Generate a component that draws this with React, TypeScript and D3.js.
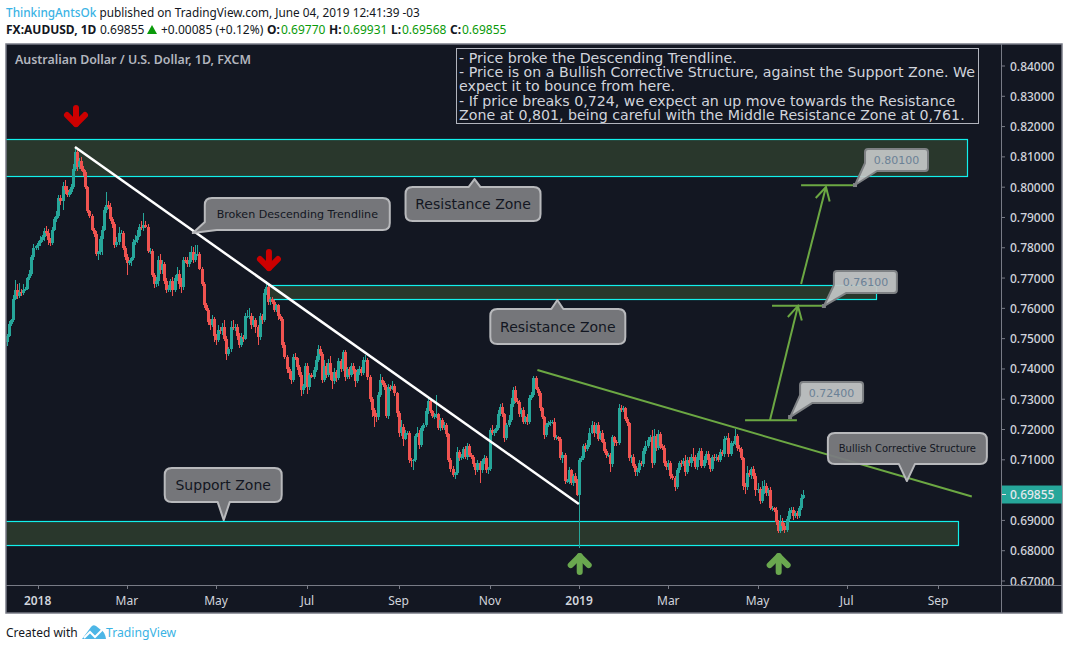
import React from "react";
import * as d3 from "d3";

// ---- data (prices in pips, 1/10000) ----
const firstOpen = 7490;
const closes = [
7510,7550,7560,7630,7660,7640,7655,7650,7660,7665,
7700,7715,7770,7800,7805,7815,7825,7835,7855,7850,
7825,7815,7860,7895,7905,7965,7955,8005,7990,7975,
7985,8000,8060,8115,8065,8085,8060,8050,8000,7920,
7905,7860,7845,7780,7785,7830,7860,7925,7940,7935,
7895,7880,7810,7820,7850,7850,7800,7770,7750,7755,
7765,7820,7825,7840,7870,7865,7875,7870,7790,7790,
7710,7680,7690,7760,7725,7745,7690,7660,7665,7690,
7660,7700,7715,7680,7670,7760,7755,7745,7760,7785,
7760,7780,7780,7730,7680,7610,7595,7555,7545,7565,
7510,7495,7530,7525,7540,7500,7450,7465,7540,7535,
7540,7510,7480,7505,7500,7575,7575,7575,7545,7560,
7540,7505,7575,7560,7650,7672,7620,7630,7620,7595,
7610,7575,7565,7480,7440,7400,7385,7365,7440,7435,
7405,7380,7330,7345,7410,7340,7380,7375,7395,7430,
7465,7450,7365,7410,7380,7420,7385,7360,7390,7370,
7425,7400,7455,7375,7400,7380,7410,7395,7360,7390,
7400,7385,7430,7430,7375,7300,7265,7245,7240,7315,
7365,7355,7340,7245,7340,7335,7345,7320,7255,7190,
7210,7170,7190,7190,7100,7095,7100,7180,7190,7150,
7205,7215,7260,7295,7260,7245,7245,7250,7205,7230,
7205,7215,7185,7100,7070,7050,7055,7125,7105,7110,
7135,7110,7145,7115,7110,7085,7065,7090,7065,7095,
7105,7065,7070,7200,7190,7195,7205,7250,7275,7250,
7172,7215,7230,7285,7330,7295,7290,7250,7265,7225,
7240,7225,7305,7315,7370,7335,7320,7270,7240,7182,
7215,7220,7225,7225,7175,7175,7170,7105,7115,7030,
7030,7065,7025,7045,7030,6985,7100,7105,7145,7135,
7150,7190,7215,7190,7215,7170,7190,7160,7130,7115,
7115,7085,7175,7160,7155,7270,7265,7270,7235,7220,
7105,7110,7080,7060,7065,7090,7085,7130,7145,7165,
7175,7090,7180,7140,7185,7145,7140,7090,7075,7090,
7045,7040,7011,7065,7090,7085,7095,7060,7100,7090,
7110,7105,7075,7110,7130,7080,7100,7120,7100,7070,
7110,7105,7110,7100,7125,7120,7170,7172,7120,7155,
7155,7180,7140,7135,7105,7015,7010,7055,7050,7070,
7045,7000,7005,6965,7000,7015,6990,7000,6940,6940,
6935,6895,6865,6895,6880,6870,6905,6930,6935,6915,
6925,6915,6940,6975,6985.5,
];
const wickUp = [
6,8,5,15,34,20,30,8,22,6,
5,10,6,12,5,8,14,8,10,16,
12,6,10,5,15,8,10,12,18,14,
8,10,15,18,12,10,14,10,8,5,
6,8,5,10,4,8,12,10,45,14,
12,8,6,14,20,10,6,5,8,4,
6,10,18,20,10,18,40,12,8,10,
6,8,12,14,20,14,8,10,12,8,
14,10,22,12,20,10,8,14,25,20,
16,30,28,6,5,6,8,5,10,12,
8,6,14,10,12,22,10,8,18,20,
10,8,10,14,6,10,18,25,10,14,
8,6,10,8,14,18,10,8,6,8,
6,6,8,5,8,5,6,8,8,12,
6,8,10,6,10,8,6,8,10,12,
14,12,6,18,8,14,22,6,14,8,
10,8,6,8,5,8,10,8,6,10,
10,6,8,16,6,4,6,5,8,10,
18,8,6,6,10,8,16,6,5,6,
20,8,10,6,6,5,4,5,18,8,
8,6,10,14,10,6,8,65,6,8,
8,10,6,4,6,8,5,18,6,10,
8,10,12,8,6,5,6,8,6,8,
10,8,6,4,14,8,10,15,10,14,
6,8,18,20,12,14,10,8,6,8,
6,12,8,10,8,6,4,6,6,5,
5,8,6,8,14,6,5,6,10,6,
8,10,6,8,10,6,5,8,6,10,
14,16,12,10,8,10,6,10,8,6,
8,6,8,5,5,14,12,8,6,8,
4,6,8,6,8,10,6,8,16,10,
6,24,22,6,14,6,6,8,5,10,
6,8,5,8,6,8,10,22,10,8,
8,30,10,14,8,10,12,8,10,6,
6,8,8,6,10,8,10,8,16,8,
8,22,6,10,6,4,8,24,10,6,
8,12,18,6,30,20,8,6,10,6,
5,10,6,22,14,12,8,10,10,8,
6,6,8,12,14,
];
const wickDown = [
15,6,8,5,4,10,6,8,6,4,
6,5,8,10,6,14,8,6,12,10,
16,8,6,5,10,6,14,30,12,8,
6,8,6,5,10,6,8,12,5,6,
8,5,10,8,22,10,55,6,10,8,
6,16,12,8,10,6,8,10,40,8,
14,6,10,8,6,8,10,6,8,10,
8,14,10,16,10,12,10,8,6,10,
20,6,10,16,18,8,6,10,8,6,
10,8,6,5,6,8,5,10,18,8,
20,16,6,10,14,8,22,8,10,8,
10,14,10,8,12,6,8,10,12,8,
20,25,8,10,5,6,8,10,6,8,
6,14,8,10,8,12,18,16,8,6,
10,8,18,14,8,22,10,6,8,6,
6,8,12,8,10,8,22,26,10,14,
8,10,6,14,8,12,6,12,18,8,
10,8,6,8,10,8,25,35,14,10,
6,8,10,8,10,8,6,8,12,16,
10,24,6,8,10,18,28,6,6,14,
8,10,6,8,6,8,10,6,8,10,
8,6,10,8,10,6,14,6,8,6,
8,8,10,6,8,10,14,6,40,8,
8,10,12,6,8,10,6,8,6,8,
14,6,8,6,10,8,6,10,8,8,
8,10,6,6,8,6,8,8,6,12,
8,6,8,6,10,10,8,6,14,10,
6,10,8,12,8,6,175,8,6,8,
6,8,6,14,6,8,6,6,8,8,
6,24,10,16,10,6,6,8,6,8,
10,16,8,12,14,8,6,8,10,6,
6,18,8,10,6,8,8,10,8,10,
8,6,14,6,8,10,6,12,8,10,
14,10,6,8,12,8,6,10,16,10,
6,8,10,8,6,8,12,6,10,6,
8,6,10,8,6,14,22,8,6,12,
8,20,10,12,8,14,8,8,6,8,
6,10,8,6,14,10,8,6,6,14,
8,10,6,6,5,
];

const priceTicks = [0.84,0.83,0.82,0.81,0.80,0.79,0.78,0.77,0.76,0.75,0.74,0.73,0.72,0.71,0.69,0.68,0.67];
const timeTicks = [
  { bar: 15, label: "2018", bold: true }, { bar: 58, label: "Mar" }, { bar: 101, label: "May" },
  { bar: 145, label: "Jul" }, { bar: 189, label: "Sep" }, { bar: 233, label: "Nov" },
  { bar: 276, label: "2019", bold: true }, { bar: 319, label: "Mar" }, { bar: 362, label: "May" },
  { bar: 405, label: "Jul" }, { bar: 449, label: "Sep" },
];
const lastPrice = 0.69855;
const zones = [
  { from: -5, to: 463, top: 0.81606, bottom: 0.80359 },
  { from: 126, to: 419, top: 0.7678, bottom: 0.76298 },
  { from: -5, to: 458.5, top: 0.68969, bottom: 0.68176 },
];
const trendLines = [
  { a: [33, 0.81326], b: [275.9, 0.6954], color: "#ffffff", w: 2.5 },
  { a: [255.9, 0.73964], b: [465.3, 0.69788], color: "#6ca843", w: 2 },
];
const levels = [
  { from: 356, to: 381, price: 0.7231 },
  { from: 369, to: 394, price: 0.76087 },
  { from: 383, to: 408.5, price: 0.80061 },
];
const moves = [
  { a: [368, 0.7231], b: [381.5, 0.7608] },
  { a: [383, 0.76803], b: [395, 0.80005] },
];
const markers = [
  { bar: 33.5, price: 0.82118, dir: "down", color: "#cc0000" },
  { bar: 126.5, price: 0.77364, dir: "down", color: "#cc0000" },
  { bar: 276.3, price: 0.6779, dir: "up", color: "#6aa84f" },
  { bar: 372.2, price: 0.6779, dir: "up", color: "#6aa84f" },
];
const bubbles = [
  { text: "Broken Descending Trendline", bar: 89.8, price: 0.78487, box: [12, -35, 197, -3], kind: "corner", a: 8, size: 11.1 },
  { text: "Resistance Zone", bar: 225.6, price: 0.80269, box: [-69, 8, 66, 42], kind: "top", a: 6, size: 14 },
  { text: "Resistance Zone", bar: 265.5, price: 0.76275, box: [-67, 9, 68, 44], kind: "top", a: 6, size: 14 },
  { text: "Support Zone", bar: 104.7, price: 0.69011, box: [-59, -52, 58, -18], kind: "bottom", a: 6, size: 14 },
  { text: "Bullish Corrective Structure", bar: 434, price: 0.70299, box: [-79, -48, 80, -17], kind: "bottom", a: 8, size: 10 },
];
const priceLabels = [
  { text: "0.80100", bar: 409, price: 0.80071, box: [10, -36, 73, -14] },
  { text: "0.76100", bar: 394, price: 0.76077, box: [10, -35, 73, -13] },
  { text: "0.72400", bar: 377.7, price: 0.72412, box: [10, -35, 73, -14] },
];
const noteLines = [
  "- Price broke the Descending Trendline.",
  "- Price is on a Bullish Corrective Structure, against the Support Zone. We",
  "expect it to bounce from here.",
  "- If price breaks 0,724, we expect an up move towards the Resistance",
  "Zone at 0,801, being careful with the Middle Resistance Zone at 0,761.",
];

// ---- layout ----
const W = 1068, H = 650;
const pane = { left: 6, right: 1001, top: 44, bottom: 585, outerRight: 1062, outerBottom: 613 };
const x = d3.scaleLinear().domain([0, 449]).range([6.5, 938]);
const y = d3.scaleLinear().domain([0.67, 0.84]).range([581, 66]);
const UI = "'Noto Sans', sans-serif";
const DJ = "'DejaVu Sans', sans-serif";
const UP = "#26a69a", DOWN = "#ef5350", AXIS = "#787b86", LABEL = "#d1d4dc", GREEN = "#6ca843";

const candles = closes.map((c, i) => {
  const o = i === 0 ? firstOpen : closes[i - 1];
  return {
    i, o: o / 1e4, c: c / 1e4,
    h: (Math.max(o, c) + wickUp[i]) / 1e4,
    l: (Math.min(o, c) - wickDown[i]) / 1e4,
  };
});
const seg = d3.line();
const snap = (v: number) => Math.round(v) + 0.5;

function bubblePath(tx: number, ty: number, box: number[], kind: string, a: number, r = 7) {
  const [x0, y0, x1, y1] = [tx + box[0], ty + box[1], tx + box[2], ty + box[3]];
  const p = d3.path();
  p.moveTo(x0 + r, y0);
  if (kind === "top") { p.lineTo(tx - a, y0); p.lineTo(tx, ty); p.lineTo(tx + a, y0); }
  p.lineTo(x1 - r, y0);
  p.quadraticCurveTo(x1, y0, x1, y0 + r);
  p.lineTo(x1, y1 - r);
  p.quadraticCurveTo(x1, y1, x1 - r, y1);
  if (kind === "bottom") { p.lineTo(tx + a, y1); p.lineTo(tx, ty); p.lineTo(tx - a, y1); }
  if (kind === "corner") {
    p.lineTo(x0 + a + 4, y1); p.lineTo(tx, ty); p.lineTo(x0, y1 - a);
  } else {
    p.lineTo(x0 + r, y1);
    p.quadraticCurveTo(x0, y1, x0, y1 - r);
  }
  p.lineTo(x0, y0 + r);
  p.quadraticCurveTo(x0, y0, x0 + r, y0);
  p.closePath();
  return p.toString();
}

export default function App() {
  return (
    <svg width={W} height={H} style={{ position: "absolute", left: 0, top: 0, background: "#fff" }}>
      <defs>
        <clipPath id="plot"><rect x={pane.left} y={pane.top} width={pane.right - pane.left} height={pane.bottom - pane.top} /></clipPath>
        <clipPath id="axisY"><rect x={pane.right} y={pane.top} width={pane.outerRight - pane.right} height={pane.bottom - pane.top} /></clipPath>
      </defs>

      {/* header */}
      <text x={6} y={17} fontFamily={UI} fontSize={11.8} fill="#131722">
        <tspan fill="#3bb3e4" fontWeight={500}>ThinkingAntsOk</tspan> published on TradingView.com, June 04, 2019 12:41:39 -03
      </text>
      <g fontFamily={UI} fontSize={12} fill="#131722">
        <text x={6} y={34} fontWeight={700}>FX:AUDUSD, 1D</text>
        <text x={100} y={34}>0.69855</text>
        <path d={d3.line()([[147, 34], [157, 34], [152, 25]]) + "Z"} fill="#0a9a0a" />
        <text x={161} y={34}>+0.00085 (+0.12%)</text>
        {[["O:", 267, "0.69770", 281], ["H:", 329, "0.69931", 343], ["L:", 391, "0.69568", 402], ["C:", 450, "0.69855", 462]].map((r) => (
          <g key={r[0] as string}>
            <text x={r[1] as number} y={34} fontWeight={700}>{r[0]}</text>
            <text x={r[3] as number} y={34} fill="#0a9a0a">{r[2]}</text>
          </g>
        ))}
      </g>

      {/* panes */}
      <rect x={pane.left} y={pane.top} width={pane.outerRight - pane.left} height={pane.outerBottom - pane.top} fill="#131722" />

      <g clipPath="url(#plot)">
        {zones.map((z, i) => {
          const x0 = snap(x(z.from)), x1 = snap(x(z.to)), y0 = snap(y(z.top)), y1 = snap(y(z.bottom));
          return <rect key={i} x={x0} y={y0} width={x1 - x0} height={y1 - y0} fill="#29372c" stroke="#12f0ec" strokeWidth={1.2} />;
        })}
        <g shapeRendering="crispEdges">
          {candles.map((d) => {
            const cx = Math.round(x(d.i));
            const up = d.c >= d.o;
            const color = up ? UP : DOWN;
            const top = y(Math.max(d.o, d.c));
            const bot = y(Math.min(d.o, d.c));
            return (
              <g key={d.i}>
                <rect x={cx} y={y(d.h)} width={1} height={y(d.l) - y(d.h)} fill={color} />
                <rect x={cx - 1} y={top} width={3} height={Math.max(bot - top, 1)} fill={color} />
              </g>
            );
          })}
        </g>

        {trendLines.map((t, i) => (
          <path key={i} d={seg([[x(t.a[0]), y(t.a[1])], [x(t.b[0]), y(t.b[1])]]) as string} stroke={t.color} strokeWidth={t.w} fill="none" />
        ))}
        {levels.map((l, i) => (
          <path key={i} d={seg([[x(l.from), y(l.price)], [x(l.to), y(l.price)]]) as string} stroke={GREEN} strokeWidth={2} fill="none" />
        ))}
        {moves.map((m, i) => {
          const ax = x(m.a[0]), ay = y(m.a[1]), bx = x(m.b[0]), by = y(m.b[1]);
          const ang = Math.atan2(by - ay, bx - ax);
          const arm = (d: number): [number, number] => [bx - 15 * Math.cos(ang + d), by - 15 * Math.sin(ang + d)];
          return (
            <g key={i} stroke={GREEN} strokeWidth={2} fill="none">
              <path d={seg([[ax, ay], [bx, by]]) as string} />
              <path d={seg([arm(0.5), [bx, by], arm(-0.5)]) as string} />
            </g>
          );
        })}
        {markers.map((m, i) => {
          const mx = x(m.bar), my = y(m.price), s = m.dir === "up" ? 1 : -1;
          return (
            <g key={i} stroke={m.color} strokeWidth={6} fill="none" strokeLinecap="round" strokeLinejoin="round">
              <path d={seg([[mx, my - s * 1], [mx, my + s * 15]]) as string} />
              <path d={seg([[mx - 9, my + s * 8], [mx, my - s * 1], [mx + 9, my + s * 8]]) as string} />
            </g>
          );
        })}

        {bubbles.map((b, i) => {
          const tx = x(b.bar), ty = y(b.price);
          return (
            <g key={i}>
              <path d={bubblePath(tx, ty, b.box, b.kind, b.a)} fill="#7a7b80" fillOpacity={0.95} stroke="#b8b9bc" strokeWidth={2} strokeLinejoin="round" />
              <text x={tx + (b.box[0] + b.box[2]) / 2} y={ty + (b.box[1] + b.box[3]) / 2 + b.size * 0.36} textAnchor="middle" fontFamily={DJ} fontSize={b.size} fill="#131722">{b.text}</text>
            </g>
          );
        })}
        {priceLabels.map((b, i) => {
          const tx = x(b.bar), ty = y(b.price);
          return (
            <g key={i}>
              <path d={bubblePath(tx, ty, b.box, "corner", 8, 3)} fill="#c2c6c6" fillOpacity={0.94} stroke="#7e8184" strokeWidth={2} strokeLinejoin="round" />
              <rect x={tx - 2} y={ty - 2} width={4} height={4} fill="#7e8184" />
              <text x={tx + (b.box[0] + b.box[2]) / 2} y={ty + (b.box[1] + b.box[3]) / 2 + 4} textAnchor="middle" fontFamily={DJ} fontSize={11} fill="#6b8196">{b.text}</text>
            </g>
          );
        })}

        <rect x={456.5} y={48.5} width={522} height={75} fill="#131722" stroke="#b2b5be" strokeWidth={1} />
        {noteLines.map((l, i) => (
          <text key={i} x={459} y={[63, 77, 91, 106, 120][i]} fontFamily={DJ} fontSize={14.2} fill={LABEL}>{l}</text>
        ))}
        <text x={15} y={64} fontFamily={UI} fontSize={12.4} fontWeight={600} fill="#b2b5be">Australian Dollar / U.S. Dollar, 1D, FXCM</text>
      </g>

      {/* axes */}
      <rect x={pane.left} y={pane.top} width={pane.outerRight - pane.left} height={pane.outerBottom - pane.top} fill="none" stroke={AXIS} strokeWidth={1.5} />
      <path d={`M${pane.left} ${pane.bottom + 0.5}H${pane.outerRight}`} stroke={AXIS} strokeWidth={1} />
      <path d={`M${pane.right + 0.5} ${pane.top}V${pane.outerBottom}`} stroke={AXIS} strokeWidth={1} />
      <g clipPath="url(#axisY)">
        {priceTicks.map((t) => (
          <g key={t}>
            <path d={`M${pane.right} ${y(t)}h4`} stroke={AXIS} />
            <text x={1010} y={y(t) + 4.5} fontFamily={UI} fontSize={12} fontWeight={500} fill={LABEL}>{d3.format(".5f")(t)}</text>
          </g>
        ))}
        <rect x={pane.right + 1} y={y(lastPrice) - 9} width={60} height={18} fill="#26a69a" />
        <path d={`M${pane.right + 1} ${y(lastPrice)}h4`} stroke="#e6e6e6" />
        <text x={1010} y={y(lastPrice) + 4.5} fontFamily={UI} fontSize={12} fontWeight={500} fill="#e6e9ee">{d3.format(".5f")(lastPrice)}</text>
      </g>
      {timeTicks.map((t) => (
        <g key={t.label + t.bar}>
          <path d={`M${Math.round(x(t.bar)) + 0.5} ${pane.bottom}v4`} stroke={AXIS} />
          <text x={x(t.bar)} y={605} textAnchor="middle" fontFamily={UI} fontSize={12} fontWeight={t.bold ? 600 : 400} fill={LABEL}>{t.label}</text>
        </g>
      ))}

      {/* footer */}
      <text x={6} y={637} fontFamily={UI} fontSize={12} fill="#131722">Created with</text>
      <path d="M82 639 L91 627 Q93 624 96 626 L101 630 Q105 632 106 639 Z" fill="#4db6e6" />
      <path d="M84 638 L90 632 L95 637 L102 630" stroke="#fff" strokeWidth={2} fill="none" />
      <text x={106} y={637} fontFamily={UI} fontSize={12.2} fill="#3bb3e4">TradingView</text>
    </svg>
  );
}
